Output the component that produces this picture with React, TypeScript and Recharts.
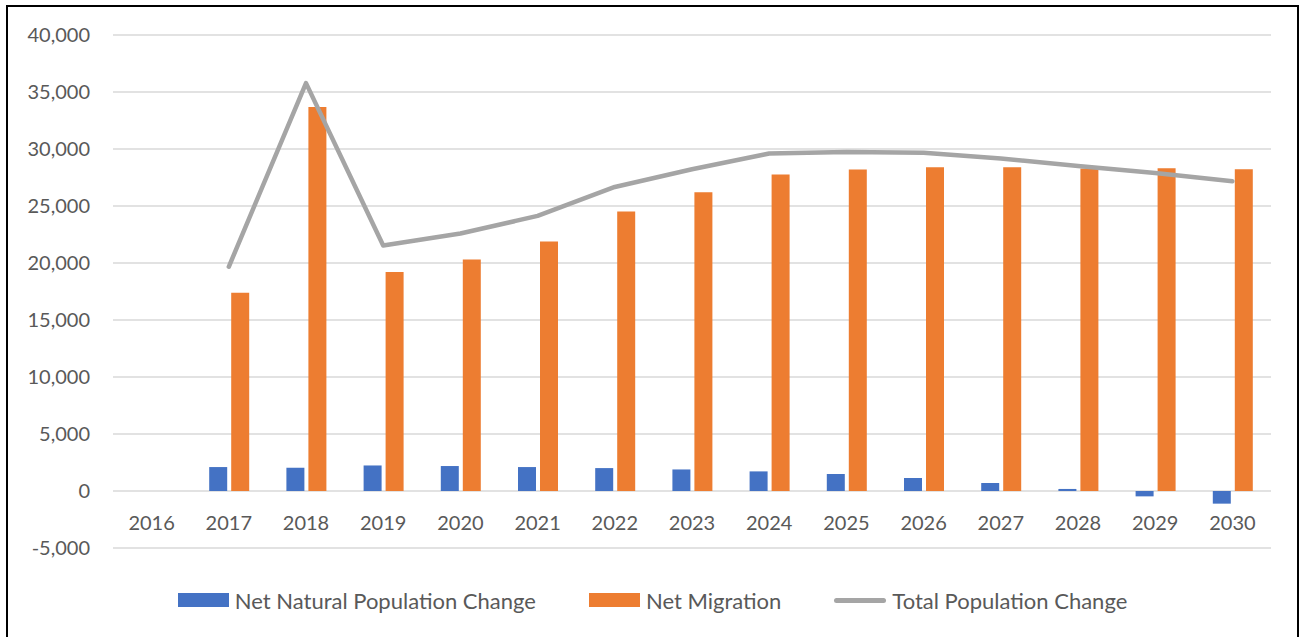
import { ComposedChart, Bar, Line, XAxis, YAxis, CartesianGrid, Legend } from 'recharts';

const years = ['2016', '2017', '2018', '2019', '2020', '2021', '2022', '2023', '2024', '2025', '2026', '2027', '2028', '2029', '2030'];
const netNatural = [null, 2100, 2040, 2240, 2190, 2100, 2010, 1890, 1720, 1490, 1140, 700, 180, -470, -1110];
const netMigration = [null, 17390, 33680, 19200, 20310, 21890, 24520, 26210, 27760, 28200, 28400, 28400, 28300, 28310, 28220];
const totalChange = [null, 19670, 35780, 21540, 22590, 24130, 26670, 28220, 29600, 29740, 29680, 29160, 28510, 27900, 27170];
const yTicks = [-5000, 0, 5000, 10000, 15000, 20000, 25000, 30000, 35000, 40000];
const seriesNames = ['Net Natural Population Change', 'Net Migration', 'Total Population Change'];

const data = years.map((year, i) => ({
  year,
  natural: netNatural[i],
  migration: netMigration[i],
  total: totalChange[i],
}));

const FONT = 'Lato, "Open Sans", sans-serif';
const TEXT = '#595959';

// Excel puts the category labels just under the zero line, not at the bottom
function YearTick(props: any) {
  const { x, y, payload } = props;
  return (
    <text x={x} y={y - 18} textAnchor="middle" fill={TEXT} fontSize={20} fontFamily={FONT}>
      {payload.value}
    </text>
  );
}

function LegendRow(props: any) {
  // keep the series order instead of recharts' alphabetical sort
  const payload = [...(props.payload || [])].sort(
    (a: any, b: any) => seriesNames.indexOf(a.value) - seriesNames.indexOf(b.value)
  );
  return (
    <div style={{ display: 'flex', justifyContent: 'center', alignItems: 'center', gap: 53, height: 28 }}>
      {payload.map((entry: any) => (
        <div key={entry.value} style={{ display: 'flex', alignItems: 'center', gap: 6 }}>
          {entry.type === 'line' ? (
            <div style={{ width: 52, height: 5, borderRadius: 3, background: entry.color }} />
          ) : (
            <div style={{ width: 51, height: 14, background: entry.color }} />
          )}
          <span style={{ color: TEXT, fontSize: 22, fontFamily: FONT }}>{entry.value}</span>
        </div>
      ))}
    </div>
  );
}

export default function App() {
  return (
    <div
      style={{
        position: 'fixed',
        left: 6,
        top: 5,
        width: 1293,
        height: 645,
        border: '2px solid #000',
        boxSizing: 'border-box',
        background: '#fff',
        fontFamily: FONT,
      }}
    >
      <ComposedChart
        width={1289}
        height={630}
        data={data}
        margin={{ top: 28, right: 26, left: 0, bottom: 0 }}
        barSize={18}
        barGap={4}
      >
        <CartesianGrid vertical={false} stroke="#d9d9d9" strokeWidth={1.3} />
        <XAxis
          dataKey="year"
          axisLine={false}
          tickLine={false}
          tickSize={0}
          tickMargin={0}
          height={89}
          interval={0}
          tick={<YearTick />}
        />
        <YAxis
          domain={[-5000, 40000]}
          ticks={yTicks}
          width={105}
          axisLine={false}
          tickLine={false}
          tickSize={0}
          tickMargin={23}
          tick={{ fill: TEXT, fontSize: 20, fontFamily: FONT }}
          tickFormatter={(v: number) => v.toLocaleString('en-US')}
        />
        <Legend
          layout="horizontal"
          verticalAlign="middle"
          align="center"
          wrapperStyle={{ top: 579, left: 0, width: 1289 }}
          content={<LegendRow />}
        />
        <Bar dataKey="natural" name={seriesNames[0]} fill="#4472C4" isAnimationActive={false} />
        <Bar dataKey="migration" name={seriesNames[1]} fill="#ED7D31" isAnimationActive={false} />
        <Line
          dataKey="total"
          name={seriesNames[2]}
          type="linear"
          stroke="#A5A5A5"
          strokeWidth={4.5}
          strokeLinecap="round"
          strokeLinejoin="round"
          dot={false}
          legendType="line"
          isAnimationActive={false}
        />
      </ComposedChart>
    </div>
  );
}
